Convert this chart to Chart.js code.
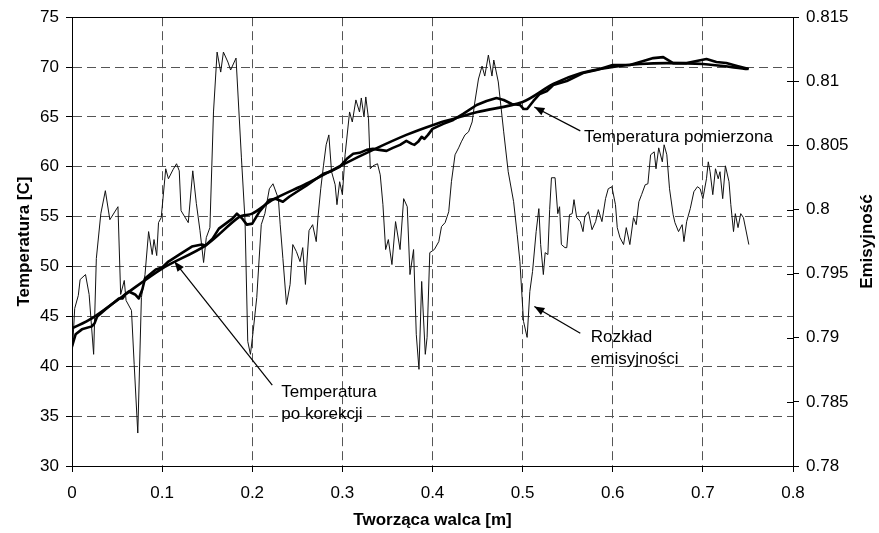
<!DOCTYPE html>
<html><head><meta charset="utf-8">
<script src="https://cdn.jsdelivr.net/npm/chart.js@4/dist/chart.umd.min.js"></script>
<style>html,body{margin:0;padding:0;background:#fff;} #wrap{width:879px;height:533px;}</style>
</head><body><div id="wrap"><canvas id="c" width="879" height="533"></canvas></div>
<script>
// ---- data (x = Tworząca walca [m]) ----
const emisX = [0.000,0.003,0.007,0.009,0.015,0.019,0.024,0.027,0.032,0.037,0.042,0.051,0.054,0.058,0.060,0.066,0.069,0.073,0.077,0.081,0.085,0.089,0.091,0.094,0.096,0.099,0.104,0.107,0.112,0.116,0.119,0.121,0.129,0.134,0.138,0.142,0.146,0.149,0.153,0.157,0.161,0.165,0.168,0.173,0.176,0.182,0.188,0.192,0.195,0.198,0.201,0.205,0.210,0.214,0.219,0.223,0.229,0.231,0.234,0.238,0.242,0.245,0.249,0.253,0.256,0.259,0.263,
0.267,0.271,0.273,0.276,0.279,0.282,0.285,0.288,0.292,0.294,0.297,0.300,0.303,0.308,0.311,0.315,0.319,0.321,0.324,0.326,0.329,0.331,0.334,0.339,0.342,0.345,0.348,0.351,0.355,0.359,0.364,0.368,0.372,0.375,0.379,0.382,0.385,0.388,0.392,0.394,0.397,0.402,0.407,0.410,0.414,0.418,0.421,0.425,0.429,0.432,0.436,0.440,0.444,0.447,0.451,0.455,0.458,0.462,0.466,0.468,0.473,0.479,0.484,0.490,0.494,0.497,0.501,0.505,0.508,0.511,0.515,0.518,
0.520,0.523,0.525,0.528,0.530,0.532,0.536,0.539,0.541,0.543,0.547,0.549,0.552,0.555,0.557,0.560,0.564,0.567,0.569,0.573,0.577,0.581,0.584,0.588,0.592,0.595,0.599,0.603,0.605,0.608,0.612,0.615,0.619,0.623,0.626,0.629,0.632,0.636,0.639,0.642,0.646,0.648,0.651,0.655,0.657,0.660,0.663,0.667,0.669,0.673,0.677,0.679,0.682,0.686,0.690,0.694,0.697,0.700,0.704,0.706,0.708,0.711,0.714,0.717,0.719,0.722,0.725,0.729,0.731,0.734,0.736,0.739,0.742,0.745,0.751];
const emisY = [0.78840,0.79229,0.79330,0.79454,0.79493,0.79338,0.78871,0.79618,0.79968,0.80147,0.79921,0.80022,0.79338,0.79447,0.79291,0.79213,0.78793,0.78257,0.79314,0.79493,0.79828,0.79649,0.79766,0.79641,0.79898,0.79937,0.80318,0.80240,0.80310,0.80357,0.80302,0.79991,0.79898,0.80302,0.80046,0.79836,0.79587,0.79781,0.79859,0.80761,0.81228,0.81072,0.81228,0.81150,0.81088,0.81181,0.80403,0.79913,0.78972,0.78871,0.79050,0.79314,0.79882,0.79968,0.80162,0.80201,0.80085,0.79882,0.79618,0.79260,0.79416,0.79727,0.79672,0.79594,0.79703,0.79416,0.79836,
0.79882,0.79750,0.79945,0.80162,0.80341,0.80505,0.80582,0.80295,0.80193,0.80038,0.80217,0.80116,0.80427,0.80761,0.80683,0.80855,0.80761,0.80870,0.80722,0.80878,0.80707,0.80318,0.80341,0.80357,0.80271,0.80038,0.79688,0.79766,0.79571,0.79906,0.79688,0.80085,0.80022,0.79493,0.79688,0.79027,0.78754,0.79439,0.78871,0.79003,0.79664,0.79688,0.79750,0.79867,0.79898,0.79983,0.80217,0.80427,0.80481,0.80528,0.80582,0.80606,0.80683,0.80839,0.81018,0.81119,0.81041,0.81205,0.81041,0.81166,0.80995,0.80606,0.80295,0.80061,0.79805,0.79594,0.79128,0.79003,0.79361,0.79517,0.79828,0.80007,
0.79727,0.79493,0.79664,0.79649,0.79999,0.80248,0.80248,0.79968,0.80022,0.79727,0.79703,0.79703,0.79960,0.79968,0.80077,0.79937,0.79906,0.79828,0.79945,0.79983,0.79843,0.79906,0.79999,0.79906,0.80085,0.80162,0.80178,0.80038,0.79859,0.79781,0.79727,0.79859,0.79727,0.79937,0.79882,0.80061,0.80116,0.80193,0.80201,0.80427,0.80450,0.80318,0.80481,0.80372,0.80505,0.80427,0.80162,0.79960,0.79898,0.79828,0.79882,0.79750,0.79906,0.80007,0.80139,0.80178,0.80162,0.80085,0.80240,0.80372,0.80295,0.80116,0.80318,0.80240,0.80295,0.80085,0.80341,0.80217,0.80038,0.79828,0.79968,0.79859,0.79968,0.79937,0.79727];

const measX = [0.000,0.004,0.011,0.022,0.025,0.028,0.037,0.052,0.056,0.059,0.063,0.070,0.074,0.078,0.081,0.093,0.100,0.107,0.119,0.133,0.144,0.148,0.156,0.163,0.178,0.183,0.189,0.194,0.200,0.208,0.219,0.226,0.234,0.241,0.253,0.260,0.271,0.279,0.286,0.297,0.305,0.312,0.319,0.327,0.334,0.341,0.349,0.356,0.364,0.371,0.377,0.380,0.384,0.388,0.391,0.395,0.400,0.412,0.423,0.434,0.449,0.460,0.471,0.479,0.488,0.497,0.501,0.505,0.512,0.519,0.527,0.534,0.549,0.567,0.582,0.600,0.619,0.634,0.645,0.656,0.667,0.682,0.693,0.704,0.715,0.726,0.738,0.751];
const measY = [42.0,43.2,43.7,44.0,44.3,45.0,45.7,46.8,46.8,47.2,47.5,47.2,46.8,47.7,48.8,49.7,49.9,50.5,51.2,52.0,52.2,52.1,52.8,53.8,54.8,55.3,54.8,54.2,54.3,55.5,56.7,56.8,56.5,57.0,57.7,58.1,58.8,59.3,59.5,60.0,60.8,61.3,61.4,61.7,61.8,61.7,61.6,61.9,62.2,62.6,62.3,62.2,62.5,63.0,62.8,63.2,63.8,64.3,64.7,65.3,66.2,66.6,66.9,66.7,66.3,66.2,65.8,65.8,66.6,67.3,67.6,68.2,68.6,69.4,69.7,70.2,70.2,70.6,70.9,71.0,70.4,70.4,70.6,70.8,70.5,70.4,70.1,69.8];

const corrX = [0.000,0.022,0.056,0.100,0.148,0.186,0.200,0.223,0.260,0.300,0.334,0.371,0.404,0.423,0.450,0.500,0.534,0.565,0.600,0.630,0.660,0.700,0.750];
const corrY = [43.8,44.8,47.0,49.8,52.1,55.0,55.3,56.7,58.3,60.2,61.7,63.2,64.3,64.8,65.5,66.5,68.3,69.4,70.0,70.3,70.4,70.3,69.8];

const xTickRange = [0, 0.8, 0.1];
const yTickRange = [30, 75, 5];
const y1TickRange = [0.78, 0.815, 0.005];

const titles = { x: 'Tworząca walca [m]', y: 'Temperatura [C]', y1: 'Emisyjność' };
// annotations in data units (x, temperature axis)
const notes = [
  { lines: ['Temperatura pomierzona'], at: [0.568, 63.0], from: [0.564, 63.6], to: [0.513, 66.0] },
  { lines: ['Rozkład', 'emisyjności'], at: [0.5756, 42.9], from: [0.564, 43.3], to: [0.513, 46.0] },
  { lines: ['Temperatura', 'po korekcji'], at: [0.2322, 37.4], from: [0.2222, 38.1], to: [0.1137, 50.5] }
];

const zip = (xs, ys) => xs.map((x, i) => ({ x: x, y: ys[i] }));
const FONT = '"Liberation Sans", Arial, sans-serif';
const fmt = v => String(parseFloat((+v).toFixed(4)));

const decor = {
  id: 'decor',
  afterDraw(chart) {
    const { ctx, chartArea: a, scales } = chart;
    ctx.save();
    ctx.setLineDash([]);
    ctx.strokeStyle = '#000';
    ctx.lineWidth = 1;
    ctx.strokeRect(Math.round(a.left) + 0.5, Math.round(a.top) + 0.5, Math.round(a.right - a.left), Math.round(a.bottom - a.top));
    // inward tick marks on right axis
    ctx.beginPath();
    scales.y1.ticks.forEach(t => {
      const y = Math.round(scales.y1.getPixelForValue(t.value)) + 0.5;
      ctx.moveTo(a.right - 6, y); ctx.lineTo(a.right, y);
    });
    ctx.stroke();
    // axis titles
    ctx.fillStyle = '#000';
    ctx.font = 'bold 17px ' + FONT;
    ctx.textAlign = 'center'; ctx.textBaseline = 'middle';
    const cy = (a.top + a.bottom) / 2;
    ctx.fillText(titles.x, (a.left + a.right) / 2, 520);
    ctx.save(); ctx.translate(24, cy); ctx.rotate(-Math.PI / 2); ctx.fillText(titles.y, 0, 0); ctx.restore();
    ctx.save(); ctx.translate(867, cy); ctx.rotate(-Math.PI / 2); ctx.fillText(titles.y1, 0, 0); ctx.restore();
    // annotations
    ctx.font = '17px ' + FONT;
    ctx.textAlign = 'left';
    notes.forEach(n => {
      const px = v => scales.x.getPixelForValue(v[0]);
      const py = v => scales.y.getPixelForValue(v[1]);
      const x0 = px(n.at), y0 = py(n.at);
      const lh = 22;
      n.lines.forEach((s, i) => ctx.fillText(s, x0, y0 + i * lh));
      const fx = px(n.from), fy = py(n.from), tx = px(n.to), ty = py(n.to);
      ctx.beginPath(); ctx.moveTo(fx, fy); ctx.lineTo(tx, ty); ctx.lineWidth = 1.2; ctx.stroke();
      const ang = Math.atan2(ty - fy, tx - fx);
      const L = 10, W = 4;
      ctx.beginPath();
      ctx.moveTo(tx, ty);
      ctx.lineTo(tx - L * Math.cos(ang) + W * Math.sin(ang), ty - L * Math.sin(ang) - W * Math.cos(ang));
      ctx.lineTo(tx - L * Math.cos(ang) - W * Math.sin(ang), ty - L * Math.sin(ang) + W * Math.cos(ang));
      ctx.closePath(); ctx.fill();
    });
    ctx.restore();
  }
};

const gridCommon = { color: '#555', lineWidth: 1, tickColor: '#000', tickLength: 6, tickWidth: 1 };
const tickFont = { family: FONT, size: 17 };

new Chart(document.getElementById('c'), {
  type: 'line',
  data: {
    datasets: [
      { label: 'Temperatura pomierzona', data: zip(measX, measY), yAxisID: 'y', borderColor: '#000', borderWidth: 2.6, pointRadius: 0, tension: 0, borderJoinStyle: 'round', fill: false },
      { label: 'Temperatura po korekcji', data: zip(corrX, corrY), yAxisID: 'y', borderColor: '#000', borderWidth: 2.6, pointRadius: 0, tension: 0.3, borderJoinStyle: 'round', fill: false },
      { label: 'Rozkład emisyjności', data: zip(emisX, emisY), yAxisID: 'y1', borderColor: '#111', borderWidth: 1, pointRadius: 0, tension: 0, fill: false }
    ]
  },
  options: {
    responsive: false, animation: false, devicePixelRatio: 1,
    layout: { padding: { top: 16, left: 0, right: 0, bottom: 0 } },
    plugins: { legend: { display: false }, tooltip: { enabled: false } },
    scales: {
      x: {
        type: 'linear', position: 'bottom', min: xTickRange[0], max: xTickRange[1],
        ticks: { stepSize: xTickRange[2], color: '#000', font: tickFont, padding: 11, maxRotation: 0, callback: fmt },
        grid: gridCommon,
        border: { color: '#000', width: 1, dash: [9, 5] },
        afterFit(s) { s.height = 67; }
      },
      y: {
        type: 'linear', position: 'left', min: yTickRange[0], max: yTickRange[1],
        ticks: { stepSize: yTickRange[2], color: '#000', font: tickFont, padding: 7, callback: fmt },
        grid: gridCommon,
        border: { color: '#000', width: 1, dash: [9, 5] },
        afterFit(s) { s.width = 72; }
      },
      y1: {
        type: 'linear', position: 'right', min: y1TickRange[0], max: y1TickRange[1],
        ticks: { stepSize: y1TickRange[2], color: '#000', font: tickFont, padding: 7, callback: fmt },
        grid: Object.assign({}, gridCommon, { drawOnChartArea: false }),
        border: { color: '#000', width: 1 },
        afterFit(s) { s.width = 86; }
      }
    }
  },
  plugins: [decor]
});
</script>
</body></html>
